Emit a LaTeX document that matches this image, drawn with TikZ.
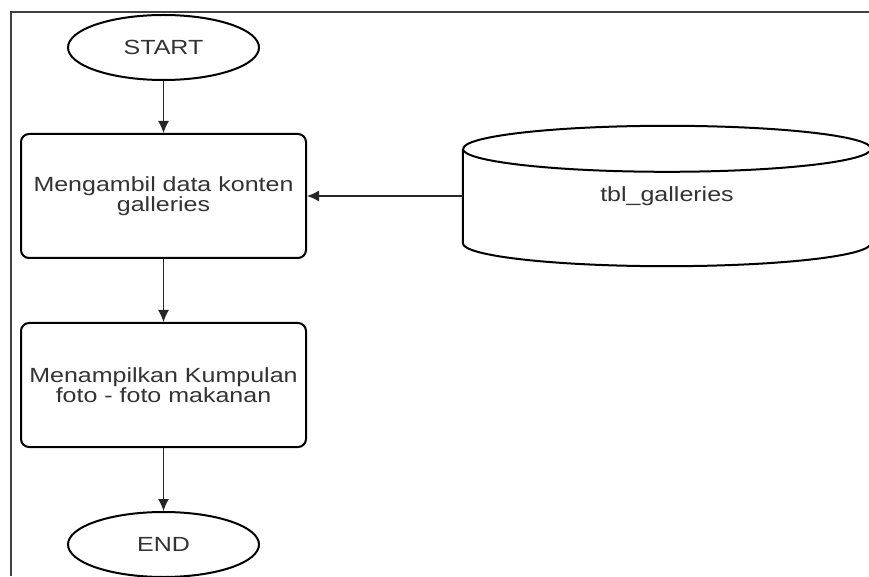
\documentclass[tikz,border=0pt]{standalone}
\usepackage{fontspec}
\setmainfont{Liberation Sans}[FakeStretch=1.22]
\usepackage{tikz}
\usetikzlibrary{arrows.meta,positioning,shapes,calc}

\begin{document}
\begin{tikzpicture}[x = 1pt, y = 1pt,
  every node/.style = {font=\fontsize{20.5}{19}\selectfont, text=black!80},
  term/.style = {ellipse, draw, line width=2pt, minimum width=191pt, minimum height=65pt, inner sep=0pt},
  proc/.style = {rectangle, draw, rounded corners=8pt, line width=2pt, minimum width=285pt, minimum height=124pt, align=center, inner sep=0pt},
  flow/.style = {-{Latex[length=12pt,width=11pt]}, line width=1.2pt, black!85}]
\useasboundingbox (0, 0) rectangle (869, 576);
\draw[line width=1.5pt, black!75] (11, 0) -- (11, 564) -- (869, 564);

\node[term] (start) at (163.5, 528.5) {START};
\node[proc] (ambil) at (163.5, 380) {Mengambil data konten\\galleries};
\node[proc] (tampil) at (163.5, 191) {Menampilkan Kumpulan\\foto - foto makanan};
\node[term] (end) at (163.5, 31.5) {END};
\node[minimum width=408pt, minimum height=140pt, inner sep=0pt] (db) at (667, 380) {tbl\_galleries};

% tabel database
\draw[line width=2pt] ([yshift=-23]db.north west) -- ([yshift=23]db.south west)
  arc[start angle=180, end angle=360, x radius=204, y radius=23]
  -- ([yshift=-23]db.north east)
  arc[start angle=0, end angle=180, x radius=204, y radius=23];
\draw[line width=2pt] ([yshift=-23]db.north west)
  arc[start angle=180, end angle=360, x radius=204, y radius=23];

\draw[flow] (start) -- (ambil);
\draw[flow] (db) -- (ambil);
\draw[flow] (ambil) -- (tampil);
\draw[flow] (tampil) -- (end);

\end{tikzpicture}
\end{document}
